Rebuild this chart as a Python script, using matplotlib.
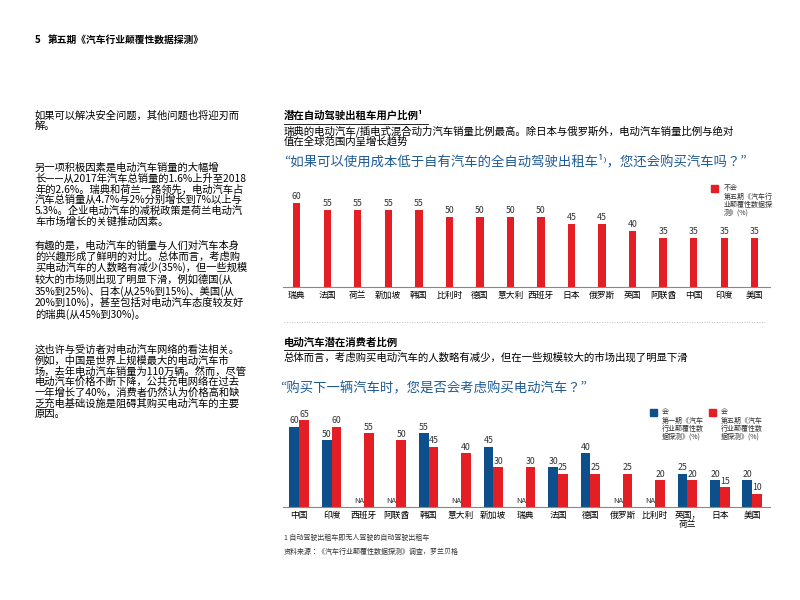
import matplotlib
matplotlib.use("Agg")
import matplotlib.pyplot as plt
import numpy as np

plt.rcParams["font.family"] = ["Noto Sans CJK JP", "DejaVu Sans"]

top_countries = ["瑞典","法国","荷兰","新加坡","韩国","比利时","德国","意大利","西班牙","日本","俄罗斯","英国","阿联酋","中国","印度","美国"]
top_values = [60,55,55,55,55,50,50,50,50,45,45,40,35,35,35,35]

bot_countries = ["中国","印度","西班牙","阿联酋","韩国","意大利","新加坡","瑞典","法国","德国","俄罗斯","比利时","英国，\n荷兰","日本","美国"]
wave1 = [60,50,None,None,55,None,45,None,30,40,None,None,25,20,20]
wave5 = [65,60,55,50,45,40,30,30,25,25,25,20,20,15,10]

RED = "#e31e24"
BLUE = "#0d4f8b"
QBLUE = "#1e5a96"
W, H = 800, 600
fig = plt.figure(figsize=(8, 6), dpi=100)

def fx(x): return x / W
def fy(y): return 1 - y / H

# header
fig.text(fx(35), fy(40), "5", fontsize=7, fontweight="bold", va="center")
fig.text(fx(48), fy(40), "第五期《汽车行业颠覆性数据探测》", fontsize=7, fontweight="bold", va="center")

left_paras = [
    (110, "如果可以解决安全问题，其他问题也将迎刃而\n解。"),
    (163, "另一项积极因素是电动汽车销量的大幅增\n长——从2017年汽车总销量的1.6%上升至2018\n年的2.6%。瑞典和荷兰一路领先，电动汽车占\n汽车总销量从4.7%与2%分别增长到7%以上与\n5.3%。企业电动汽车的减税政策是荷兰电动汽\n车市场增长的关键推动因素。"),
    (241, "有趣的是，电动汽车的销量与人们对汽车本身\n的兴趣形成了鲜明的对比。总体而言，考虑购\n买电动汽车的人数略有减少(35%)，但一些规模\n较大的市场则出现了明显下滑，例如德国(从\n35%到25%)、日本(从25%到15%)、美国(从\n20%到10%)，甚至包括对电动汽车态度较友好\n的瑞典(从45%到30%)。"),
    (345, "这也许与受访者对电动汽车网络的看法相关。\n例如，中国是世界上规模最大的电动汽车市\n场，去年电动汽车销量为110万辆。然而，尽管\n电动汽车价格不断下降，公共充电网络在过去\n一年增长了40%，消费者仍然认为价格高和缺\n乏充电基础设施是阻碍其购买电动汽车的主要\n原因。"),
]
for y, t in left_paras:
    fig.text(fx(35), fy(y), t, fontsize=7.4, va="top", linespacing=1.05)

# top chart titles
fig.text(fx(284), fy(116), "潜在自动驾驶出租车用户比例¹", fontsize=7.5, fontweight="bold", va="center")
fig.add_artist(plt.Line2D([fx(284), fx(428)], [fy(124), fy(124)], color="black", lw=0.6))
fig.text(fx(284), fy(125), "瑞典的电动汽车/插电式混合动力汽车销量比例最高。除日本与俄罗斯外，电动汽车销量比例与绝对\n值在全球范围内呈增长趋势", fontsize=7.5, va="top", linespacing=1.0)
fig.text(fx(284), fy(161), "“如果可以使用成本低于自有汽车的全自动驾驶出租车¹⁾，您还会购买汽车吗？”", fontsize=9.6, color=QBLUE, va="center")

ax1 = fig.add_axes([fx(283), fy(287), fx(770) - fx(283), (287 - 180) / H])
x1 = np.arange(len(top_countries))
ax1.bar(x1, top_values, width=0.24, color=RED)
for xi, v in zip(x1, top_values):
    ax1.text(xi, v + 1.5, str(v), ha="center", va="bottom", fontsize=6.3, color="#333333")
ax1.set_ylim(0, 60 * 107 / 84)
ax1.set_xlim(-0.45, len(top_countries) - 0.5)
ax1.set_xticks(x1)
ax1.set_xticklabels(top_countries, fontsize=6.3)
ax1.tick_params(axis="x", length=0, pad=3)
ax1.set_yticks([])
for s in ["top", "right", "left"]:
    ax1.spines[s].set_visible(False)
ax1.spines["bottom"].set_color("#888888")
# legend top
fig.patches.append(plt.Rectangle((fx(711), fy(192)), 7 / W, 7 / H, transform=fig.transFigure, color=RED))
fig.text(fx(724), fy(188), "不会", fontsize=5, va="center", color="#333333")
fig.text(fx(724), fy(193), "第五期《汽车行\n业颠覆性数据探\n测》(%)", fontsize=5, va="top", color="#333333", linespacing=1.0)

# dotted separator
fig.add_artist(plt.Line2D([fx(284), fx(765)], [fy(322), fy(322)], color="#aaaaaa", lw=0.6, ls=(0, (1, 2))))

# bottom titles
fig.text(fx(284), fy(343), "电动汽车潜在消费者比例", fontsize=7.5, fontweight="bold", va="center")
fig.add_artist(plt.Line2D([fx(284), fx(400)], [fy(350), fy(350)], color="black", lw=0.6))
fig.text(fx(284), fy(358), "总体而言，考虑购买电动汽车的人数略有减少，但在一些规模较大的市场出现了明显下滑", fontsize=7.5, va="center")
fig.text(fx(280), fy(388), "“购买下一辆汽车时，您是否会考虑购买电动汽车？”", fontsize=9.6, color=QBLUE, va="center")

ax2 = fig.add_axes([fx(283), fy(507), fx(770) - fx(283), (507 - 400) / H])
x2 = np.arange(len(bot_countries))
bw = 0.3
for xi, a, b in zip(x2, wave1, wave5):
    if a is None:
        ax2.text(xi - bw / 2, 1.5, "NA", ha="center", va="bottom", fontsize=5.5, color="#333333")
    else:
        ax2.bar(xi - bw / 2, a, width=bw, color=BLUE)
        ax2.text(xi - bw / 2, a + 1, str(a), ha="center", va="bottom", fontsize=6.3, color="#333333")
    ax2.bar(xi + bw / 2, b, width=bw, color=RED)
    ax2.text(xi + bw / 2, b + 1, str(b), ha="center", va="bottom", fontsize=6.3, color="#333333")
ax2.set_ylim(0, 65 * 107 / 87)
ax2.set_xlim(-0.5, len(bot_countries) - 0.45)
ax2.set_xticks(x2)
ax2.set_xticklabels(bot_countries, fontsize=6.3, va="top", linespacing=1.0)
ax2.tick_params(axis="x", length=0, pad=3)
ax2.set_yticks([])
for s in ["top", "right", "left"]:
    ax2.spines[s].set_visible(False)
ax2.spines["bottom"].set_color("#888888")
# legend bottom
fig.patches.append(plt.Rectangle((fx(650), fy(416)), 7 / W, 7 / H, transform=fig.transFigure, color=BLUE))
fig.text(fx(662), fy(412), "会", fontsize=5, va="center", color="#333333")
fig.text(fx(662), fy(417), "第一期《汽车\n行业颠覆性数\n据探测》(%)", fontsize=5, va="top", color="#333333", linespacing=1.0)
fig.patches.append(plt.Rectangle((fx(709), fy(416)), 7 / W, 7 / H, transform=fig.transFigure, color=RED))
fig.text(fx(721), fy(412), "会", fontsize=5, va="center", color="#333333")
fig.text(fx(721), fy(417), "第五期《汽车\n行业颠覆性数\n据探测》(%)", fontsize=5, va="top", color="#333333", linespacing=1.0)

# footnotes
fig.text(fx(284), fy(538), "1 自动驾驶出租车即无人驾驶的自动驾驶出租车", fontsize=5, va="center", color="#333333")
fig.text(fx(284), fy(552), "资料来源：《汽车行业颠覆性数据探测》调查，罗兰贝格", fontsize=5, va="center", color="#333333")

fig.savefig("out.png", dpi=100)
